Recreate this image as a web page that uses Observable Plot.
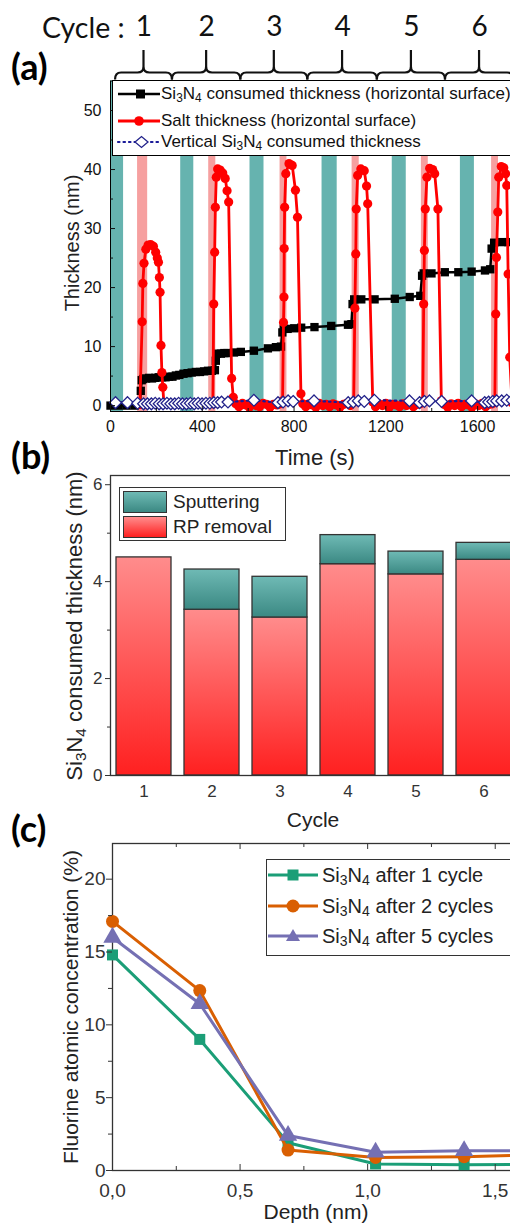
<!DOCTYPE html>
<html><head><meta charset="utf-8">
<script src="https://cdn.jsdelivr.net/npm/d3@7"></script>
<script src="https://cdn.jsdelivr.net/npm/@observablehq/plot@0.6"></script>
<style>
body{margin:0;background:#fff;}
#root{position:relative;width:510px;height:1226px;overflow:hidden;font-family:"Liberation Sans",Arial,sans-serif;color:#222;}
#root svg{max-width:none !important;}
.abs{position:absolute;}
.svgwrap{position:absolute;left:0;width:540px;}
.rot{position:absolute;transform:translate(-50%,-50%) rotate(-90deg);white-space:nowrap;font-size:20px;}
.ctr{position:absolute;transform:translate(-50%,-50%);white-space:nowrap;font-size:21px;}
.vc{position:absolute;transform:translateY(-50%);white-space:nowrap;}
.plabel{position:absolute;transform:translateY(-50%);font-family:Lato,"Open Sans",sans-serif;font-weight:bold;font-size:36px;color:#000;}
sub{font-size:0.7em;vertical-align:-0.25em;line-height:0;}
</style></head><body><div id="root"></div>
<script>
// ---------- Panel (a) data ----------
const tealStart = [0, 306, 608, 922, 1228, 1525];
const tealEnd   = [57, 363, 669, 988, 1289, 1586];
const pinkStart = [118, 428, 739, 1053, 1355, 1661];
const pinkEnd   = [162, 459, 769, 1084, 1385, 1691];
const cycleLabels = ["1","2","3","4","5","6"];
const cycleBounds = [22, 270, 568, 860, 1163, 1460, 1757];
const timeTicks = [0, 400, 800, 1200, 1600];
const timeMinor = [200, 600, 1000, 1400, 1800];
const thickTicks = [0, 10, 20, 30, 40, 50];
const thickMinor = [5, 15, 25, 35, 45];

// Si3N4 consumed thickness (horizontal surface): [time s, nm]
const consumedSeries = [[0,0],[35,0],[70,0],[105,0],[128,0.2],[132,2.5],[136,4.3],[142,4.5],[155,4.6],[168,4.7],[181,4.6],[195,4.7],[210,4.8],[225,4.8],[240,4.8],[255,4.9],[270,4.9],[285,5.1],[300,5.2],[318,5.4],[336,5.5],[354,5.6],[372,5.7],[390,5.7],[408,5.8],[425,5.9],[442,5.9],[455,6.0],[459,7.6],[464,8.8],[481,8.8],[496,8.9],[510,8.9],[538,9.0],[568,9.1],[625,9.3],[686,9.7],[721,9.9],[743,10.0],[749,12.4],[755,13.0],[772,13.0],[801,13.1],[831,13.2],[889,13.3],[962,13.5],[1035,13.7],[1050,13.8],[1055,17.2],[1062,18.0],[1093,18.0],[1151,18.0],[1239,18.1],[1304,18.4],[1350,18.6],[1358,22.0],[1365,22.4],[1399,22.4],[1457,22.6],[1516,22.6],[1574,22.7],[1632,22.9],[1655,23.1],[1661,26.6],[1672,27.6],[1705,27.7],[1734,27.7],[1765,27.8],[1795,27.8]];

// Salt thickness (horizontal surface): [time s, nm]; null = no measurement
const saltSeries = [[128,0.2],[138,14.2],[141,20.7],[146,24.1],[154,26.5],[164,27.2],[175,27.3],[187,27.0],[197,26.0],[204,25.0],[209,24.3],[213,21.7],[216,19.2],[220,10.2],[224,5.6],[228,3.1],[233,0.3],[240,null],
[446,0.3],[450,17.2],[454,26.0],[457,33.6],[461,38.7],[467,40.1],[478,39.9],[489,39.4],[500,38.5],[508,36.4],[515,34.5],[528,4.6],[535,1.4],[546,0.3],[560,-0.2],[575,0.4],[590,0.1],[605,-0.3],[620,0.3],[635,0.0],[650,-0.2],[665,0.4],[680,0.2],[695,-0.3],[710,0.2],[725,0.1],[740,0.3],
[750,0.8],[754,14.1],[756,18.4],[757,26.6],[759,33.6],[764,39.3],[778,41.0],[792,40.7],[806,36.5],[815,31.9],[830,2.0],[838,0.3],[851,-0.2],[865,0.3],[880,0.1],[895,-0.3],[910,0.4],[925,0.0],[940,0.2],[955,-0.2],[970,0.3],[985,0.1],[1000,-0.3],[1015,0.2],[1030,0.4],[1045,0.0],
[1060,0.6],[1065,16.5],[1069,25.7],[1071,33.3],[1077,39.0],[1091,40.1],[1106,39.8],[1116,37.2],[1121,34.2],[1143,0.6],[1155,-0.2],[1170,0.3],[1185,0.0],[1200,0.4],[1215,-0.3],[1230,0.2],[1245,0.1],[1260,-0.2],[1275,0.3],[1290,0.0],[1305,0.4],[1320,-0.2],[1335,0.2],[1350,0.3],
[1361,0.7],[1365,17.2],[1368,26.3],[1372,33.3],[1379,38.7],[1391,40.2],[1404,40.0],[1413,39.3],[1427,33.3],[1442,0.8],[1455,0.2],[1470,-0.3],[1485,0.3],[1500,0.0],[1515,0.4],[1530,-0.2],[1545,0.2],[1560,0.1],[1575,-0.3],[1590,0.3],[1605,0.0],[1620,0.4],[1635,-0.2],[1650,0.2],[1664,0.3],
[1675,0.6],[1679,15.5],[1682,25.1],[1688,32.8],[1692,38.7],[1703,40.5],[1714,40.3],[1722,39.3],[1727,37.3],[1733,22.3],[1740,8.2],[1750,0.5],[1765,0.2],[1780,-0.2],[1795,0.3]];

// Vertical Si3N4 consumed thickness: [time s, nm]
const verticalSeries = [[22,0.5],[74,0.5],[118,0.4],[144,0.3],[161,0.3],[178,0.3],[195,0.4],[212,0.3],[229,0.3],[246,0.4],[263,0.3],[280,0.3],[297,0.4],[314,0.3],[331,0.3],[348,0.4],[365,0.3],[382,0.4],[399,0.3],[416,0.4],[433,0.4],[450,0.5],[467,0.5],[484,0.6],[512,0.6],[625,0.9],[730,0.5],[752,0.6],[774,0.8],[796,0.7],[887,0.8],[1036,0.5],[1058,0.6],[1080,0.8],[1106,0.7],[1150,0.9],[1303,0.8],[1347,0.5],[1368,0.7],[1390,0.8],[1443,0.7],[1574,0.8],[1631,0.5],[1648,0.6],[1666,0.7],[1683,0.8],[1705,0.8],[1727,0.9],[1750,0.9]];

// ---------- Panel (b) data ----------
const cycles = [1, 2, 3, 4, 5, 6];
const rpRemoval  = [4.50, 3.42, 3.26, 4.36, 4.15, 4.45];
const sputtering = [0.00, 0.83, 0.84, 0.60, 0.47, 0.35];
const barTicks = [0, 2, 4, 6];
const barMinor = [1, 3, 5];

// ---------- Panel (c) data ----------
const depth = [0, 0.342, 0.688, 1.031, 1.378, 1.72];
const fAfter1 = [14.8, 9.0, 1.9, 0.45, 0.40, 0.42];
const fAfter2 = [17.1, 12.35, 1.4, 0.9, 0.95, 1.1];
const fAfter5 = [16.0, 11.45, 2.4, 1.25, 1.35, 1.35];
const depthTicks = [0, 0.5, 1.0, 1.5];
const depthMinor = [0.25, 0.75, 1.25];
const concTicks = [0, 5, 10, 15, 20];
const concMinor = [2.5, 7.5, 12.5, 17.5];

const root = document.getElementById("root");
function place(el, top){ const w=document.createElement("div"); w.className="svgwrap"; w.style.top=top+"px"; w.appendChild(el); root.appendChild(w); return el; }
function html(s){ root.insertAdjacentHTML("beforeend", s); }
const font = "Liberation Sans, Arial, sans-serif";
const plain = d => String(d);

// ================= Panel (a) =================
const teal = tealStart.map((s,i)=>({x1:s, x2:tealEnd[i]}));
const pink = pinkStart.map((s,i)=>({x1:s, x2:pinkEnd[i]}));
const cons = consumedSeries.map(([t,v])=>({t,v}));
const salt = saltSeries.map(([t,v])=>({t,v}));
const vert = verticalSeries.map(([t,v])=>({t,v}));
const cyc = cycleLabels.map((c,i)=>({c, m:(cycleBounds[i]+cycleBounds[i+1])/2}));

const plotA = Plot.plot({
  width:540, height:470, marginLeft:110, marginRight:17, marginTop:80.5, marginBottom:59,
  x:{domain:[0,1800], label:null}, y:{domain:[-1,55], label:null},
  style:{fontFamily:font, fontSize:"16px", color:"#111", background:"transparent", overflow:"visible"},
  marks:[
    Plot.rect(teal,{x1:"x1", x2:"x2", y1:-1, y2:55, fill:"#66b3af"}),
    Plot.rect(pink,{x1:"x1", x2:"x2", y1:-1, y2:55, fill:"#f6a0a0"}),
    Plot.line(cons,{x:"t", y:"v", stroke:"#000", strokeWidth:2.5}),
    Plot.dot(cons,{x:"t", y:"v", symbol:"square", r:4.7, fill:"#000"}),
    Plot.line(salt,{x:"t", y:"v", stroke:"#ff0000", strokeWidth:2.8}),
    Plot.dot(salt.filter(d=>d.v!=null),{x:"t", y:"v", r:4.6, fill:"#ff0000"}),
    Plot.line(vert,{x:"t", y:"v", stroke:"#1a1a99", strokeWidth:2.2, strokeDasharray:"1.5,4", strokeLinecap:"round"}),
    Plot.dot(vert,{x:"t", y:"v", symbol:"diamond2", r:5.3, fill:"#fff", stroke:"#22228a", strokeWidth:1.3}),
    Plot.frame({stroke:"#000"}),
    Plot.axisY(thickTicks,{tickSize:0, tickPadding:9, fontSize:16, tickFormat:plain, label:null}),
    Plot.axisY(thickTicks,{tickSize:5, dx:5, tickFormat:()=>"", label:null}),
    Plot.axisY(thickMinor,{tickSize:3, dx:3, tickFormat:()=>"", label:null}),
    Plot.axisX(timeTicks,{tickSize:0, tickPadding:9, fontSize:16, tickFormat:plain, label:null}),
    Plot.axisX(timeTicks,{tickSize:5, dy:-5, tickFormat:()=>"", label:null}),
    Plot.axisX(timeMinor,{tickSize:3, dy:-3, tickFormat:()=>"", label:null}),
    Plot.text(cyc,{x:"m", text:"c", frameAnchor:"top", dy:-53.5, lineAnchor:"middle", fontSize:28, fontFamily:"Lato, Open Sans, sans-serif", fill:"#111"})
  ]
});
place(plotA, 0);
// curly braces above the frame, positioned with the x scale
{
  const sx = plotA.scale("x");
  const g = d3.select(plotA).append("g").attr("fill","none").attr("stroke","#111").attr("stroke-width",2.2);
  const yTop=50, yH=72.5, yEnd=79.5;
  for (let i=0;i<cycleLabels.length;i++){
    const a=sx.apply(cycleBounds[i]), b=sx.apply(cycleBounds[i+1]), m=(a+b)/2;
    const p = `M${a},${yEnd} Q${a},${yH} ${a+6},${yH} L${m-6},${yH} Q${m},${yH} ${m},${yH-6} L${m},${yTop} M${m},${yH-6} Q${m},${yH} ${m+6},${yH} L${b-6},${yH} Q${b},${yH} ${b},${yEnd}`;
    g.append("path").attr("d",p);
  }
}
html(`<div class="vc" style="left:42px;top:27px;font-family:Lato,'Open Sans',sans-serif;font-size:28.5px;color:#111">Cycle :</div>`);
html(`<div class="plabel" style="left:11px;top:66px">(a)</div>`);
html(`<div class="rot" style="left:72px;top:243px;font-size:20px">Thickness (nm)</div>`);
html(`<div class="ctr" style="left:315px;top:458px;font-size:22px">Time (s)</div>`);
// legend (a)
html(`<div class="abs" style="left:112px;top:80px;width:420px;height:76px;border:1px solid #000;background:#fff;box-sizing:border-box;font-size:17px;color:#111">
<svg width="60" height="76" style="position:absolute;left:0;top:0">
<line x1="5" y1="13" x2="47" y2="13" stroke="#000" stroke-width="2.5"/><rect x="23" y="8.5" width="9" height="9" fill="#000"/>
<line x1="5" y1="40" x2="47" y2="40" stroke="#f00" stroke-width="2.8"/><circle cx="26" cy="40" r="4.8" fill="#f00"/>
<line x1="5" y1="61" x2="47" y2="61" stroke="#1a1a99" stroke-width="2.2" stroke-dasharray="1.5,4" stroke-linecap="round"/><path d="M22,61 L28.5,55.5 L35,61 L28.5,66.5Z" fill="#fff" stroke="#22228a" stroke-width="1.3"/>
</svg>
<div class="vc" style="left:48px;top:13px">Si<sub>3</sub>N<sub>4</sub> consumed thickness (horizontal surface)</div>
<div class="vc" style="left:48px;top:40px">Salt thickness (horizontal surface)</div>
<div class="vc" style="left:48px;top:61px">Vertical Si<sub>3</sub>N<sub>4</sub> consumed thickness</div>
</div>`);

// ================= Panel (b) =================
const bars = cycles.map((c,i)=>({c, rp:rpRemoval[i], total:rpRemoval[i]+sputtering[i]}));
const plotB = Plot.plot({
  width:540, height:370, marginLeft:110, marginRight:22, marginTop:10, marginBottom:60,
  x:{type:"band", domain:cycles, paddingInner:0.19, paddingOuter:0.095, label:null},
  y:{domain:[0,6.19], label:null},
  style:{fontFamily:font, fontSize:"16px", color:"#333", background:"transparent", overflow:"visible"},
  marks:[
    Plot.barY(bars,{x:"c", y1:0, y2:"rp", fill:"url(#gradRP)", stroke:"#333", strokeWidth:1.3}),
    Plot.barY(bars.filter(d=>d.total>d.rp),{x:"c", y1:"rp", y2:"total", fill:"url(#gradSp)", stroke:"#333", strokeWidth:1.3}),
    Plot.frame({stroke:"#333", strokeWidth:1.3}),
    Plot.axisY(barTicks,{tickSize:5, tickPadding:3, fontSize:17, tickFormat:plain, label:null}),
    Plot.axisY(barMinor,{tickSize:3, tickFormat:()=>"", label:null}),
    Plot.axisX({tickSize:0, tickPadding:9, fontSize:17, tickFormat:plain, label:null})
  ]
});
{
  const defs = d3.select(plotB).insert("defs", ":first-child");
  const g1 = defs.append("linearGradient").attr("id","gradRP").attr("x1",0).attr("y1",0).attr("x2",0).attr("y2",1);
  g1.append("stop").attr("offset","0%").attr("stop-color","#ff8c8c");
  g1.append("stop").attr("offset","100%").attr("stop-color","#ff2020");
  const g2 = defs.append("linearGradient").attr("id","gradSp").attr("x1",0).attr("y1",0).attr("x2",0).attr("y2",1);
  g2.append("stop").attr("offset","0%").attr("stop-color","#6fbab5");
  g2.append("stop").attr("offset","100%").attr("stop-color","#3b8983");
}
place(plotB, 465);
html(`<div class="plabel" style="left:11px;top:455px">(b)</div>`);
html(`<div class="rot" style="left:75px;top:626px;font-size:22px">Si<sub>3</sub>N<sub>4</sub> consumed thickness (nm)</div>`);
html(`<div class="ctr" style="left:313px;top:820px;font-size:21px">Cycle</div>`);
html(`<div class="abs" style="left:119px;top:487px;width:167px;height:54px;border:1px solid #333;background:#fff;box-sizing:border-box;font-size:19px;color:#222">
<div class="abs" style="left:3px;top:3px;width:44px;height:22px;border:1px solid #333;box-sizing:border-box;background:linear-gradient(#6fbab5,#3b8983)"></div>
<div class="abs" style="left:3px;top:28px;width:44px;height:22px;border:1px solid #333;box-sizing:border-box;background:linear-gradient(#ff8c8c,#ff2020)"></div>
<div class="vc" style="left:53px;top:14px">Sputtering</div>
<div class="vc" style="left:53px;top:39px">RP removal</div>
</div>`);

// ================= Panel (c) =================
const seriesC = [
  {vals:fAfter1, color:"#1b9e77", symbol:"square", r:6.2},
  {vals:fAfter2, color:"#d95f02", symbol:"circle", r:6.5},
  {vals:fAfter5, color:"#7570b3", symbol:"triangle", r:6.8}
];
const fmt = d=>d.toFixed(1).replace(".", ",");
const marksC = [Plot.frame({stroke:"#333", strokeWidth:1.3})];
for (const s of seriesC){
  const pts = depth.map((d,i)=>({d, v:s.vals[i]}));
  marksC.push(Plot.line(pts,{x:"d", y:"v", stroke:s.color, strokeWidth:3}));
  marksC.push(Plot.dot(pts,{x:"d", y:"v", symbol:s.symbol, r:s.r, fill:s.color}));
}
marksC.push(
  Plot.axisY(concTicks,{tickSize:0, tickPadding:7, fontSize:19, tickFormat:plain, label:null}),
  Plot.axisY(concTicks,{tickSize:6, tickFormat:()=>"", label:null}),
  Plot.axisY(concMinor,{tickSize:4, tickFormat:()=>"", label:null}),
  Plot.axisX(depthTicks,{tickSize:0, tickPadding:13, fontSize:19, tickFormat:fmt, label:null}),
  Plot.axisX(depthTicks,{tickSize:6, dy:-6, tickFormat:()=>"", label:null}),
  Plot.axisX(depthMinor,{tickSize:4, dy:-4, tickFormat:()=>"", label:null}),
  Plot.axisX(depthTicks,{anchor:"top", tickSize:5, dy:5, tickFormat:()=>"", label:null}),
  Plot.axisX(depthMinor,{anchor:"top", tickSize:3, dy:3, tickFormat:()=>"", label:null})
);
const plotC = Plot.plot({
  width:540, height:396, marginLeft:112, marginRight:7, marginTop:13, marginBottom:56,
  x:{domain:[0,1.65], label:null}, y:{domain:[0,22.45], label:null},
  style:{fontFamily:font, fontSize:"19px", color:"#333", background:"transparent", overflow:"visible"},
  marks:marksC
});
place(plotC, 830);
html(`<div class="plabel" style="left:11px;top:828px">(c)</div>`);
html(`<div class="rot" style="left:71px;top:1007px;font-size:21px">Fluorine atomic concentration (%)</div>`);
html(`<div class="ctr" style="left:316px;top:1212px;font-size:21px">Depth (nm)</div>`);
html(`<div class="abs" style="left:266px;top:859px;width:300px;height:97px;border:1.5px solid #333;background:#fff;box-sizing:border-box;font-size:20px;color:#222">
<svg width="56" height="97" style="position:absolute;left:0;top:0">
<line x1="1" y1="15" x2="51" y2="15" stroke="#1b9e77" stroke-width="3"/><rect x="20.5" y="9.5" width="11" height="11" fill="#1b9e77"/>
<line x1="1" y1="46" x2="51" y2="46" stroke="#d95f02" stroke-width="3"/><circle cx="26" cy="46" r="6.5" fill="#d95f02"/>
<line x1="1" y1="76" x2="51" y2="76" stroke="#7570b3" stroke-width="3"/><path d="M26,69 L33,81 L19,81Z" fill="#7570b3"/>
</svg>
<div class="vc" style="left:55px;top:15px">Si<sub>3</sub>N<sub>4</sub> after 1 cycle</div>
<div class="vc" style="left:55px;top:46px">Si<sub>3</sub>N<sub>4</sub> after 2 cycles</div>
<div class="vc" style="left:55px;top:76px">Si<sub>3</sub>N<sub>4</sub> after 5 cycles</div>
</div>`);
</script></body></html>
